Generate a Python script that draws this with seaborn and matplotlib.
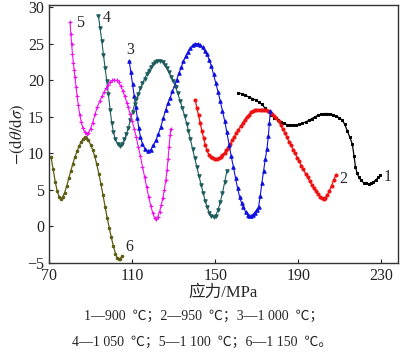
import numpy as np
import pandas as pd
import matplotlib
matplotlib.use("Agg")
import matplotlib.pyplot as plt
import seaborn as sns

# ==================== data ====================

x1 = [161.1, 162.8, 164.5, 166.2, 167.9, 169.5, 171, 172.5, 174, 175.5, 177, 178.5, 180, 181.5,
      183, 184.5, 186, 187.5, 189, 190.5, 192, 193.5, 195, 196.5, 198, 199.5, 201, 202.5, 204,
      205.4, 206.8, 208.2, 209.6, 211, 212.3, 213.6, 214.8, 216, 216.8, 217.5, 218.3, 219.2,
      220.2, 221.4, 222.6, 223.8, 225, 226.2, 227.4, 228.5, 229.5]
y1 = [18.3, 18.15, 17.95, 17.7, 17.5, 17.3, 17.0, 16.7, 16.2, 15.8, 15.3, 14.9, 14.6, 14.3,
      14.1, 13.95, 13.9, 13.85, 13.9, 14.0, 14.1, 14.3, 14.5, 14.75, 15.0, 15.2, 15.35, 15.45, 15.45,
      15.4, 15.3, 15.1, 14.9, 14.6, 14.0, 13.1, 12.2, 11.3, 9.7, 8.2, 7.3, 6.7,
      6.3, 6.0, 5.9, 5.85, 5.9, 6.1, 6.4, 6.7, 7.0]

x2 = [140.4, 141.2, 142, 142.8, 143.6, 144.4, 145.2, 146, 147, 148, 149, 150, 150.8, 151.7,
      152.6, 153.5, 154.5, 155.4, 156.4, 157.3, 158.2, 159.2, 160.2, 161.2, 162.2, 163.2, 164.2,
      165.2, 166.2, 167.2, 168.2, 169.2, 170.3, 171.4, 172.5, 173.5, 174.5, 175.5, 176.5, 177.5,
      178.5, 179.5, 180.5, 181.5, 182.5, 183.5, 184.5, 185.5, 186.5, 187.5, 188.5, 189.5, 190.5,
      191.5, 192.5, 193.5, 194.5, 195.5, 196.5, 197.5, 198.5, 199.5, 200.5, 201.4, 202.2, 203,
      204, 205, 206, 207, 208]
y2 = [17.3, 16.2, 15.2, 14.1, 13.1, 12.1, 11.2, 10.4, 9.8, 9.5, 9.3, 9.2, 9.2, 9.3,
      9.5, 9.8, 10.1, 10.4, 10.8, 11.3, 11.8, 12.3, 12.8, 13.2, 13.7, 14.1, 14.6,
      15.0, 15.3, 15.6, 15.8, 15.9, 16.0, 16.0, 16.0, 16.0, 15.9, 15.8, 15.6, 15.4,
      15.15, 14.8, 14.4, 13.9, 13.3, 12.8, 12.2, 11.6, 11.1, 10.5, 10.0, 9.4, 8.9,
      8.3, 7.8, 7.2, 6.7, 6.2, 5.7, 5.2, 4.8, 4.4, 4.1, 3.9, 3.8, 3.9,
      4.3, 4.9, 5.6, 6.3, 7.0]

x3 = [108.6, 109.4, 110.2, 111, 111.8, 112.5, 113.2, 114, 115, 116.2, 117.6, 119, 120.3, 121.5,
      122.7, 123.8, 125, 126.2, 127.3, 128.3, 129.4, 130.5, 131.5, 132.6, 133.7, 134.7, 135.8,
      136.9, 138, 139.2, 140.4, 141.6, 142.8, 143.9, 145, 146, 147.1, 148.2, 149.2, 150.3, 151.4,
      152.4, 153.5, 154.6, 155.6, 156.7, 157.7, 158.8, 159.8, 160.8, 161.8, 162.7, 163.6, 164.6,
      165.6, 166.5, 167.2, 168, 169, 170, 170.9, 171.7, 172.5, 173.3, 174.1, 174.9, 175.6,
      176.1, 176.5]
y3 = [22.7, 21.1, 19.5, 17.9, 16.3, 14.9, 13.5, 12.3, 11.3, 10.6, 10.3, 10.5, 11.1, 11.8,
      12.7, 13.6, 14.8, 16.0, 16.9, 17.6, 18.5, 19.3, 20.1, 21.0, 21.8, 22.6, 23.3,
      23.9, 24.4, 24.8, 25.0, 25.0, 24.8, 24.5, 24.0, 23.6, 22.8, 21.9, 20.8, 19.6, 18.4,
      17.2, 15.8, 14.4, 12.9, 11.2, 9.6, 8.1, 6.6, 5.2, 4.0, 3.2, 2.6, 2.0,
      1.6, 1.45, 1.4, 1.6, 1.9, 2.3, 2.7, 4.2, 6.0, 7.6, 9.2, 10.6, 12.4,
      14.2, 15.8]

x4 = [93.8, 94.6, 95.4, 96.2, 97, 97.8, 98.6, 99.4, 100.2, 101, 102, 103, 104.2, 105.3, 106.3,
      107.3, 108.2, 109.2, 110.2, 111.2, 112.1, 113, 114, 115, 116, 117, 117.9, 119, 120, 121,
      122.2, 123.5, 124.7, 125.7, 126.7, 127.8, 128.8, 129.9, 130.9, 132, 133.1, 134.2, 135.3,
      136.4, 137.1, 138.1, 139.1, 140.2, 141.2, 142.2, 143.2, 144.2, 145.2, 146.2, 147.2, 148.2,
      149.2, 150.2, 151.3, 152.4, 153.5, 154.6, 155.6]
y4 = [28.8, 27.1, 25.4, 23.5, 21.7, 19.9, 18.1, 16.0, 14.2, 12.9, 11.9, 11.3, 11.05, 11.3, 11.9,
      12.7, 13.5, 14.6, 15.7, 16.7, 17.5, 18.1, 18.9, 19.6, 20.2, 20.8, 21.3, 21.8, 22.2, 22.5,
      22.7, 22.7, 22.5, 22.1, 21.7, 21.1, 20.5, 19.9, 19.1, 18.2, 17.2, 16.2, 15.1,
      14.0, 13.1, 11.9, 10.6, 9.3, 8.1, 6.9, 5.7, 4.6, 3.5, 2.6, 1.9, 1.4,
      1.3, 1.5, 2.2, 3.3, 4.6, 6.1, 7.6]

x5 = [80.1, 80.5, 80.9, 81.3, 81.7, 82.1, 82.5, 83, 83.5, 84.1, 84.8, 85.5, 86.3, 87.2, 88.1,
      89, 90, 91, 92.2, 93.3, 94.5, 95.5, 96.5, 97.5, 98.5, 99.5, 100.5, 101.5, 102.5, 103.5,
      104.5, 105.5, 106.5, 107.5, 108.2, 109, 110, 111, 112, 113, 114, 115, 116, 117, 118, 119,
      120, 120.8, 121.5, 122.3, 123.2, 124, 124.8, 125.5, 126.2, 126.8, 127.3, 127.8, 128.3, 128.6]
y5 = [28.0, 26.4, 24.9, 23.6, 22.4, 21.4, 20.4, 19.1, 17.9, 16.6, 15.3, 14.3, 13.5, 12.9, 12.7,
      12.8, 13.4, 14.2, 15.4, 16.4, 17.2, 17.8, 18.4, 18.9, 19.4, 19.8, 20.0, 20.05, 20.0, 19.7,
      19.2, 18.6, 17.8, 16.9, 16.3, 15.4, 14.4, 13.4, 12.2, 10.9, 9.6, 8.2, 6.8, 5.4, 4.0, 2.8,
      1.8, 1.2, 1.05, 1.3, 2.0, 2.9, 3.9, 5.0, 6.3, 7.7, 9.2, 10.9, 12.5, 13.4]

x6 = [71, 72, 73, 74, 75, 75.8, 76.5, 77.5, 78.5, 79.5, 80.5, 81.5, 82.5, 83.5, 84.5, 85.5,
      86.5, 87.3, 88, 89, 90, 91, 92, 93, 94, 95, 96, 97, 98, 99, 100, 101, 102, 102.8, 103.5,
      104.3, 105.3]
y6 = [9.5, 7.8, 6.1, 4.8, 4.0, 3.8, 4.0, 4.6, 5.5, 6.6, 7.6, 8.6, 9.5, 10.3, 11.0, 11.6,
      12.0, 12.2, 12.1, 11.8, 11.2, 10.5, 9.6, 8.5, 7.2, 5.8, 4.3, 2.7, 1.2, -0.2, -1.5, -2.7, -3.7, -4.3, -4.5,
      -4.4, -4.0]

curve_labels = ["1", "2", "3", "4", "5", "6"]
label_x = [233.2, 211.8, 109.0, 97.8, 84.9, 108.6]
label_y = [6.7, 6.5, 24.1, 28.5, 27.9, -2.8]

x_ticks = [70, 110, 150, 190, 230]
y_ticks = [-5, 0, 5, 10, 15, 20, 25, 30]

caption_1 = "1—900  ℃；2—950  ℃；3—1 000  ℃；"
caption_2 = "4—1 050  ℃；5—1 100  ℃；6—1 150  ℃。"

# ==================== style ====================

sns.set_style("ticks")
plt.rcParams['font.family'] = ['Liberation Serif', 'Noto Sans CJK SC']
plt.rcParams['mathtext.fontset'] = 'stix'
plt.rcParams['axes.unicode_minus'] = True
plt.rcParams['xtick.direction'] = 'in'
plt.rcParams['ytick.direction'] = 'in'

styles = [
    dict(color="#000000", marker="s", markersize=2.0, linewidth=0.9),
    dict(color="#ee1111", marker="o", markersize=2.2, linewidth=0.9),
    dict(color="#1010dd", marker="^", markersize=2.5, linewidth=0.8),
    dict(color="#1d5c5c", marker="v", markersize=2.5, linewidth=0.8),
    dict(color="#ee11ee", marker="+", markersize=3.5, linewidth=0.8, markeredgewidth=0.8),
    dict(color="#5c5c14", marker="o", markersize=1.8, linewidth=0.9),
]

series = [(x1, y1), (x2, y2), (x3, y3), (x4, y4), (x5, y5), (x6, y6)]

fig = plt.figure(figsize=(4.0, 3.52), dpi=100)
ax = fig.add_axes([0.1225, 0.2528, 0.8725, 0.733])

for (xs, ys), st in zip(series, styles):
    df = pd.DataFrame({"x": xs, "y": ys})
    sns.lineplot(data=df, x="x", y="y", ax=ax, sort=False, estimator=None,
                 markeredgecolor=st["color"], **st)

for lab, lx, ly in zip(curve_labels, label_x, label_y):
    ax.text(lx, ly, lab, ha="center", va="center", fontsize=11.5)

ax.set_xlim(70, 238)
ax.set_ylim(-5, 30.3)
ax.set_xticks(x_ticks)
ax.set_yticks(y_ticks)
ax.tick_params(labelsize=11.5, length=3, width=0.8, colors="#222222")
for sp in ax.spines.values():
    sp.set_color("#333333")
    sp.set_linewidth(1.0)

ax.set_xlabel("应力/MPa", fontsize=12, labelpad=1)
ax.set_ylabel(r"$-(\mathrm{d}\theta/\mathrm{d}\sigma)$", fontsize=12, labelpad=0)

fig.text(0.51, 0.102, caption_1, ha="center", va="center", fontsize=10)
fig.text(0.505, 0.028, caption_2, ha="center", va="center", fontsize=10)

fig.savefig("out.png", dpi=100)
